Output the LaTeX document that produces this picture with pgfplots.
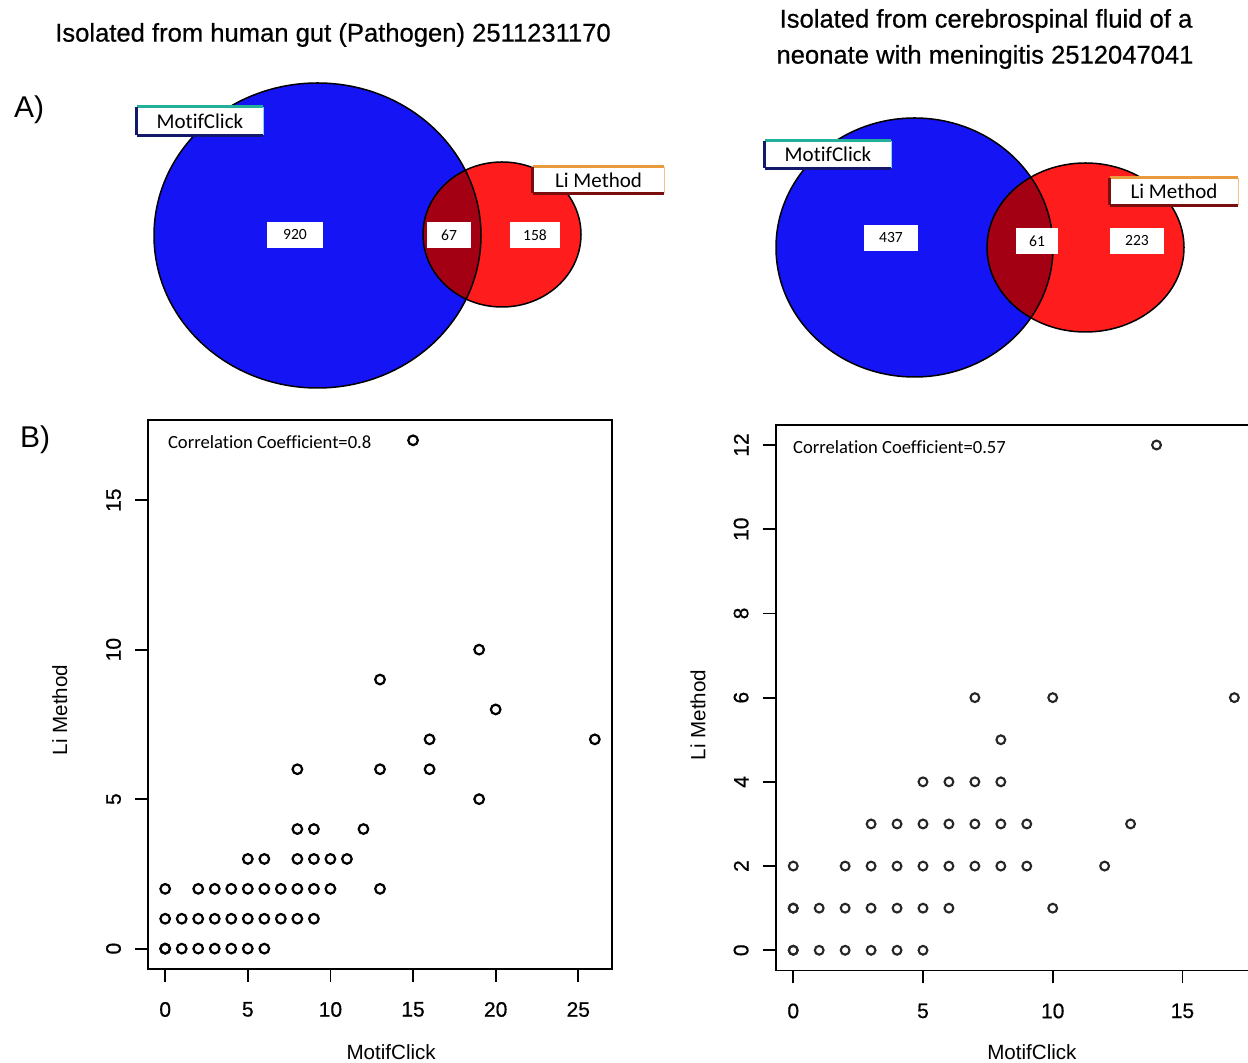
\documentclass[border=0pt]{standalone}
\usepackage{fontspec}
\setmainfont{Liberation Sans}
\newfontfamily\calfont{Carlito}[Ligatures=NoCommon]
\newfontfamily\heavyfont{Liberation Sans}[FakeBold=0.6]
\usepackage{pgfplots}
\pgfplotsset{compat=1.18}
\definecolor{vblue}{HTML}{1414F5}
\definecolor{vred}{HTML}{FF1C1C}
\definecolor{vdark}{HTML}{A30014}
\definecolor{tealA}{HTML}{22B09A}
\definecolor{navyA}{HTML}{14186A}
\definecolor{orangeA}{HTML}{E89A3C}
\definecolor{dredA}{HTML}{7A0E0E}
\pgfplotsset{
  rplot/.style={
    anchor=south west, scale only axis,
    tick align=outside, xtick pos=left, ytick pos=left,
    major tick length=6.5pt,
    every tick/.style={black, line width=0.9pt},
    axis line style={line width=0.9pt},
    /pgf/number format/assume math mode=true,
    ticklabel style={font=\heavyfont\fontsize{10.5}{12}\selectfont},
    xticklabel style={yshift=-6.5pt},
    yticklabel style={rotate=90, anchor=south, yshift=3.5pt},
    label style={font=\fontsize{10.3}{12}\selectfont},
    clip=false,
  }
}
\begin{document}
\begin{tikzpicture}
% ---------- overlay axis in pixel coordinates (Venn diagrams, titles) ----------
\begin{axis}[at={(0pt,0pt)}, anchor=south west, scale only axis,
  width=624pt, height=531.5pt, xmin=0, xmax=1248, ymin=0, ymax=1063,
  y dir=reverse, hide axis, clip=false]
% left Venn
\fill[vblue] (axis cs:317.5,235.5) ellipse [x radius=81.75pt, y radius=76.25pt];
\fill[vred] (axis cs:502,234.5) ellipse [x radius=39.5pt, y radius=36.25pt];
\begin{scope}
\clip (axis cs:317.5,235.5) ellipse [x radius=81.75pt, y radius=76.25pt];
\fill[vdark] (axis cs:502,234.5) ellipse [x radius=39.5pt, y radius=36.25pt];
\end{scope}
\draw[line width=0.75pt] (axis cs:317.5,235.5) ellipse [x radius=81.75pt, y radius=76.25pt];
\draw[line width=0.75pt] (axis cs:502,234.5) ellipse [x radius=39.5pt, y radius=36.25pt];
% right Venn
\fill[vblue] (axis cs:914.5,247.5) ellipse [x radius=69.25pt, y radius=64.75pt];
\fill[vred] (axis cs:1085.5,247.5) ellipse [x radius=49.25pt, y radius=42.25pt];
\begin{scope}
\clip (axis cs:914.5,247.5) ellipse [x radius=69.25pt, y radius=64.75pt];
\fill[vdark] (axis cs:1085.5,247.5) ellipse [x radius=49.25pt, y radius=42.25pt];
\end{scope}
\draw[line width=0.75pt] (axis cs:914.5,247.5) ellipse [x radius=69.25pt, y radius=64.75pt];
\draw[line width=0.75pt] (axis cs:1085.5,247.5) ellipse [x radius=49.25pt, y radius=42.25pt];
% set labels
\node[fill=white, minimum width=63pt, minimum height=14pt, inner sep=0pt, font=\calfont\fontsize{10.5}{12}\selectfont] (mc1) at (axis cs:200,121) {MotifClick};
\draw[tealA, line width=1.3pt] (mc1.north west) -- (mc1.north east);
\draw[navyA, line width=1.6pt] (mc1.south west) -- (mc1.south east);
\draw[navyA, line width=1.2pt] (mc1.north west) -- (mc1.south west);
\draw[cyan!50, line width=0.6pt] (mc1.north east) -- (mc1.south east);
\node[fill=white, minimum width=65.5pt, minimum height=13pt, inner sep=0pt, font=\calfont\fontsize{10.5}{12}\selectfont] (li1) at (axis cs:598.5,180) {Li Method};
\draw[orangeA, line width=1.3pt] (li1.north west) -- (li1.north east);
\draw[dredA, line width=1.6pt] (li1.south west) -- (li1.south east);
\draw[dredA, line width=1.2pt] (li1.north west) -- (li1.south west);
\draw[orangeA!60, line width=0.6pt] (li1.north east) -- (li1.south east);
\node[fill=white, minimum width=63pt, minimum height=13.5pt, inner sep=0pt, font=\calfont\fontsize{10.5}{12}\selectfont] (mc2) at (axis cs:828,154.5) {MotifClick};
\draw[tealA, line width=1.3pt] (mc2.north west) -- (mc2.north east);
\draw[navyA, line width=1.6pt] (mc2.south west) -- (mc2.south east);
\draw[navyA, line width=1.2pt] (mc2.north west) -- (mc2.south west);
\draw[cyan!50, line width=0.6pt] (mc2.north east) -- (mc2.south east);
\node[fill=white, minimum width=64pt, minimum height=13.5pt, inner sep=0pt, font=\calfont\fontsize{10.5}{12}\selectfont] (li2) at (axis cs:1174,191.5) {Li Method};
\draw[orangeA, line width=1.3pt] (li2.north west) -- (li2.north east);
\draw[dredA, line width=1.6pt] (li2.south west) -- (li2.south east);
\draw[dredA, line width=1.2pt] (li2.north west) -- (li2.south west);
\draw[orangeA!60, line width=0.6pt] (li2.north east) -- (li2.south east);
% counts
\tikzset{cnt/.style={fill=white, inner sep=0pt, minimum height=13pt, font=\calfont\fontsize{7.8}{9}\selectfont}}
\node[cnt, minimum width=28pt] at (axis cs:295,235) {920};
\node[cnt, minimum width=22pt] at (axis cs:449,235) {67};
\node[cnt, minimum width=25pt] at (axis cs:535,235) {158};
\node[cnt, minimum width=27pt] at (axis cs:891,238) {437};
\node[cnt, minimum width=21pt] at (axis cs:1037,241) {61};
\node[cnt, minimum width=27pt] at (axis cs:1137,241) {223};
% titles and panel letters
\node[font=\heavyfont\fontsize{12.8}{14}\selectfont] at (axis cs:333,35) {Isolated from human gut (Pathogen) 2511231170};
\node[font=\heavyfont\fontsize{12.8}{14}\selectfont] at (axis cs:986,21) {Isolated from cerebrospinal fluid of a};
\node[font=\heavyfont\fontsize{12.8}{14}\selectfont] at (axis cs:985,57) {neonate with meningitis 2512047041};
\node[font=\fontsize{15}{17}\selectfont] at (axis cs:29,110) {A)};
\node[font=\fontsize{15}{17}\selectfont] at (axis cs:35,440) {B)};
\end{axis}

% ---------- left scatter ----------
\begin{axis}[rplot, at={(74pt,47pt)}, width=232pt, height=274.5pt,
  xmin=-1.04, xmax=27.04, ymin=-0.68, ymax=17.68,
  xtick={0,5,10,15,20,25}, ytick={0,5,10,15},
  xlabel={MotifClick}, ylabel={Li Method},
  xlabel style={at={(rel axis cs:0.524,-0.151)}, anchor=center},
  ylabel style={at={(rel axis cs:-0.19,0.472)}, anchor=center}]
\addplot[only marks, mark=o, mark size=2.4pt, mark options={line width=1.1pt, black}] coordinates {
(0,0) (0,0) (1,0) (2,0) (3,0) (4,0) (5,0) (6,0)
(0,1) (1,1) (2,1) (3,1) (4,1) (5,1) (6,1) (7,1) (8,1) (9,1)
(0,2) (2,2) (3,2) (4,2) (5,2) (6,2) (7,2) (8,2) (9,2) (10,2) (13,2)
(5,3) (6,3) (8,3) (9,3) (10,3) (11,3)
(8,4) (9,4) (12,4)
(19,5)
(8,6) (13,6) (16,6)
(16,7) (26,7)
(20,8) (13,9) (19,10) (15,17)
};
\node[anchor=west, font=\calfont\fontsize{9.3}{11}\selectfont] at (rel axis cs:0.028,0.96) {Correlation Coefficient=0.8};
\end{axis}

% ---------- right scatter ----------
\begin{axis}[rplot, at={(387.8pt,46.25pt)}, width=238.2pt, height=272.85pt,
  xmin=-0.68, xmax=17.68, ymin=-0.48, ymax=12.48,
  xtick={0,5,10,15}, ytick={0,2,4,6,8,10,12},
  xlabel={MotifClick}, ylabel={Li Method},
  xlabel style={at={(rel axis cs:0.538,-0.149)}, anchor=center},
  ylabel style={at={(rel axis cs:-0.163,0.468)}, anchor=center}]
\addplot[only marks, mark=o, mark size=2.2pt, mark options={line width=1.05pt, black!85}] coordinates {
(0,0) (0,0) (1,0) (2,0) (3,0) (4,0) (5,0)
(0,1) (0,1) (1,1) (2,1) (3,1) (4,1) (5,1) (6,1) (10,1)
(0,2) (2,2) (3,2) (4,2) (5,2) (6,2) (7,2) (8,2) (9,2) (12,2)
(3,3) (4,3) (5,3) (6,3) (7,3) (8,3) (9,3) (13,3)
(5,4) (6,4) (7,4) (8,4)
(8,5)
(7,6) (10,6) (17,6)
(14,12)
};
\node[anchor=west, font=\calfont\fontsize{9.3}{11}\selectfont] at (rel axis cs:0.022,0.959) {Correlation Coefficient=0.57};
\end{axis}
\pgfresetboundingbox
\path[use as bounding box] (0pt,0pt) rectangle (624pt,531.5pt);
\end{tikzpicture}
\end{document}
